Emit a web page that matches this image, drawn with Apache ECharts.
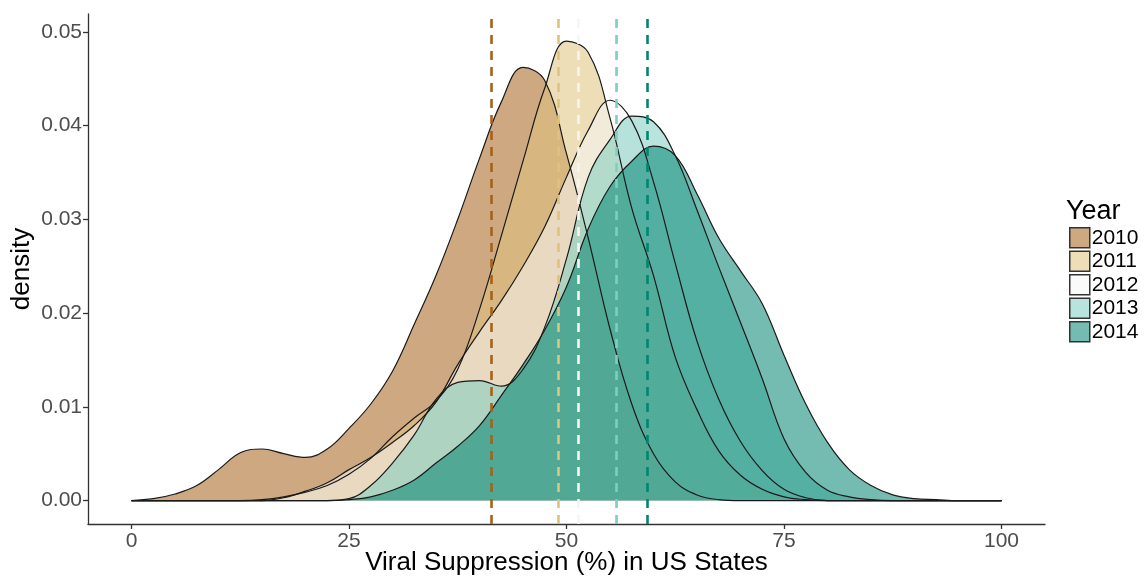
<!DOCTYPE html>
<html>
<head>
<meta charset="utf-8">
<script src="https://cdn.jsdelivr.net/npm/echarts@6/dist/echarts.min.js"></script>
<style>
  html, body { margin: 0; padding: 0; background: #fff; }
  #main { width: 1144px; height: 579px; }
</style>
</head>
<body>
<div id="main"></div>
<script>
const years = ["2010", "2011", "2012", "2013", "2014"];
const palette = ["#a6611a", "#dfc27d", "#f5f5f5", "#80cdc1", "#018571"];
const fillAlpha = 0.55;

// viral suppression (%) grid the densities were read at
const xs = [0, 2.5, 5, 7.5, 10, 12.5, 15, 17.5, 20, 22.5, 25, 27.5, 30, 32.5, 35, 37.5, 40,
  42.5, 45, 47.5, 50, 52.5, 55, 57.5, 60, 62.5, 65, 67.5, 70, 72.5, 75, 77.5, 80,
  82.5, 85, 87.5, 90, 92.5, 95, 97.5, 100];

const d2010 = [0, 0.0002, 0.0007, 0.0016, 0.0033, 0.0051, 0.0055, 0.0050, 0.0046, 0.0055, 0.0077,
  0.0103, 0.0138, 0.0188, 0.0240, 0.0300, 0.0365, 0.0425, 0.0462, 0.0448, 0.0370, 0.0280,
  0.0183, 0.0103, 0.0050, 0.0020, 0.0006, 0.0001, 0, 0, 0, 0, 0,
  0, 0, 0, 0, 0, 0, 0, 0];
const d2011 = [0, 0, 0, 0, 0, 0, 0.0001, 0.0004, 0.0009, 0.0016, 0.0028,
  0.0045, 0.0068, 0.0088, 0.0106, 0.0140, 0.0204, 0.0282, 0.0362, 0.0440, 0.0490, 0.0478,
  0.0408, 0.0312, 0.0240, 0.0153, 0.0097, 0.0053, 0.0027, 0.0012, 0.0004, 0.0001, 0,
  0, 0, 0, 0, 0, 0, 0, 0];
const d2012 = [0, 0, 0, 0, 0, 0, 0, 0.0003, 0.0010, 0.0019, 0.0033,
  0.0046, 0.0062, 0.0080, 0.0105, 0.0145, 0.0180, 0.0213, 0.0250, 0.0292, 0.0345, 0.0395,
  0.0427, 0.0405, 0.0340, 0.0253, 0.0170, 0.0108, 0.0063, 0.0032, 0.0012, 0.0003, 0,
  0, 0, 0, 0, 0, 0, 0, 0];
const d2013 = [0, 0, 0, 0, 0, 0, 0, 0, 0, 0, 0.0002,
  0.0016, 0.0040, 0.0070, 0.0108, 0.0126, 0.0128, 0.0122, 0.0140, 0.0185, 0.0258, 0.0345,
  0.0385, 0.0410, 0.0404, 0.0368, 0.0310, 0.0249, 0.0190, 0.0130, 0.0066, 0.0030, 0.0011,
  0.0004, 0.0001, 0, 0, 0, 0, 0, 0];
const d2014 = [0, 0, 0, 0, 0, 0, 0, 0, 0, 0, 0.0001,
  0.0004, 0.0011, 0.0022, 0.0040, 0.0058, 0.0080, 0.0112, 0.0145, 0.0182, 0.0228, 0.0290,
  0.0335, 0.0362, 0.0378, 0.0368, 0.0327, 0.0280, 0.0245, 0.0210, 0.0155, 0.0103, 0.0062,
  0.0033, 0.0016, 0.0006, 0.0002, 0.0001, 0, 0, 0];
const densities = [d2010, d2011, d2012, d2013, d2014];

// mean suppression per year (dashed lines)
const means = [41.3, 49.1, 51.3, 55.7, 59.3];

const xTicks = [0, 25, 50, 75, 100];
const yTicks = [0, 0.01, 0.02, 0.03, 0.04, 0.05];

const fontFamily = "Liberation Sans, Arial, sans-serif";

const rgba = (hex, a) => {
  const n = parseInt(hex.slice(1), 16);
  return `rgba(${(n >> 16) & 255},${(n >> 8) & 255},${n & 255},${a})`;
};

const chart = echarts.init(document.getElementById("main"));

chart.setOption({
  animation: false,
  backgroundColor: "#fff",
  textStyle: { fontFamily },
  title: {
    text: "Year",
    left: 1066,
    top: 198,
    padding: 0,
    textStyle: { fontFamily, fontSize: 27, fontWeight: "normal", color: "#000" },
  },
  legend: {
    orient: "vertical",
    left: 1069,
    top: 227,
    itemWidth: 20,
    itemHeight: 20,
    itemGap: 2,
    padding: 0,
    selectedMode: false,
    textStyle: { fontFamily, fontSize: 21, lineHeight: 20, color: "#000", padding: [0, 0, 0, -3] },
    data: years.map((y, i) => ({
      name: y,
      icon: "rect",
      itemStyle: { color: rgba(palette[i], fillAlpha), borderColor: "#333", borderWidth: 1.5 },
    })),
  },
  grid: { left: 88, right: 99, top: 14, bottom: 55, outerBoundsMode: "none", containLabel: false },
  xAxis: {
    type: "value",
    min: -5,
    max: 105,
    name: "Viral Suppression (%) in US States",
    nameLocation: "middle",
    nameGap: 26,
    nameMoveOverlap: false,
    nameTextStyle: { fontFamily, fontSize: 26, color: "#000" },
    axisLine: { show: true, onZero: false, lineStyle: { color: "#333", width: 1.3 } },
    axisTick: { show: true, length: 5, customValues: xTicks, lineStyle: { color: "#333", width: 1.3 } },
    axisLabel: { customValues: xTicks, fontSize: 21, color: "#4d4d4d", margin: 7 },
    splitLine: { show: false },
  },
  yAxis: {
    type: "value",
    min: -0.0025,
    max: 0.0519,
    name: "density",
    nameLocation: "middle",
    nameGap: 53,
    nameMoveOverlap: false,
    nameTextStyle: { fontFamily, fontSize: 26, color: "#000" },
    axisLine: { show: true, onZero: false, lineStyle: { color: "#333", width: 1.3 } },
    axisTick: { show: true, length: 5, customValues: yTicks, lineStyle: { color: "#333", width: 1.3 } },
    axisLabel: {
      customValues: yTicks,
      fontSize: 21,
      color: "#4d4d4d",
      margin: 6,
      formatter: v => v.toFixed(2),
    },
    splitLine: { show: false },
  },
  series: years.map((y, i) => ({
    name: y,
    type: "line",
    smooth: 0.4,
    showSymbol: false,
    symbol: "none",
    data: xs.map((x, j) => [x, densities[i][j]]),
    itemStyle: { color: rgba(palette[i], fillAlpha) },
    lineStyle: { color: "#1a1a1a", width: 1.2 },
    areaStyle: { color: rgba(palette[i], fillAlpha), opacity: 1, origin: 0 },
    markLine: {
      silent: true,
      symbol: ["none", "none"],
      label: { show: false },
      lineStyle: { color: palette[i], type: [9, 7], width: 2.6, opacity: 1 },
      data: [{ xAxis: means[i] }],
    },
  })),
});
</script>
</body>
</html>
